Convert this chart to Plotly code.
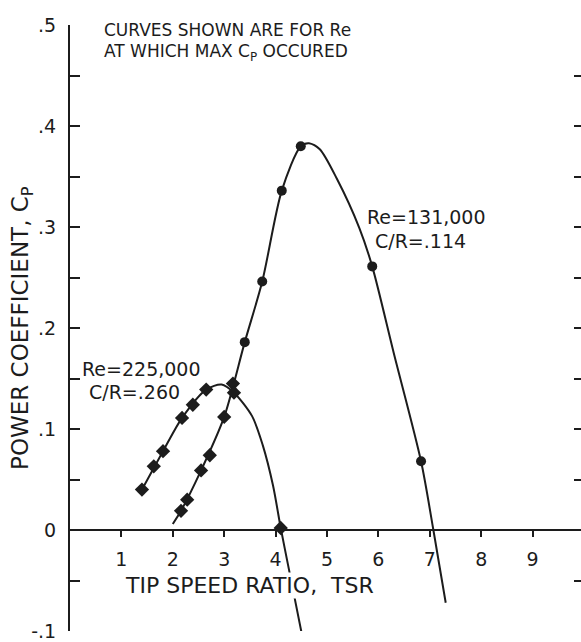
import plotly.graph_objects as go

# ---- data ----
# Re = 131,000, C/R = .114 : measured points
tsr_131 = [2.16, 2.28, 2.55, 2.72, 3.00, 3.17, 3.40, 3.74, 4.12, 4.49, 5.88, 6.83]
cp_131 = [0.019, 0.030, 0.059, 0.074, 0.112, 0.145, 0.186, 0.246, 0.336, 0.380, 0.261, 0.068]
# faired curve through them
curve_tsr_131 = [2.00, 2.16, 2.55, 3.00, 3.40, 3.74, 4.12, 4.49, 4.65, 4.86, 5.19, 5.63, 5.88, 6.30, 6.83, 7.07, 7.31]
curve_cp_131 = [0.006, 0.019, 0.059, 0.112, 0.186, 0.246, 0.336, 0.380, 0.383, 0.377, 0.348, 0.299, 0.261, 0.175, 0.068, 0.0, -0.072]

# Re = 225,000, C/R = .260 : measured points
tsr_225 = [1.40, 1.63, 1.81, 2.18, 2.39, 2.65, 3.19, 4.10]
cp_225 = [0.040, 0.063, 0.078, 0.111, 0.124, 0.139, 0.136, 0.002]
curve_tsr_225 = [1.40, 1.81, 2.18, 2.65, 2.95, 3.19, 3.54, 3.75, 3.95, 4.10, 4.24, 4.51]
curve_cp_225 = [0.040, 0.078, 0.111, 0.139, 0.144, 0.136, 0.113, 0.084, 0.044, 0.002, -0.034, -0.103]

x_ticks = [1, 2, 3, 4, 5, 6, 7, 8, 9]
y_ticks = [-0.1, 0, 0.1, 0.2, 0.3, 0.4, 0.5]
y_tick_text = ["-.1", "0", ".1", ".2", ".3", ".4", ".5"]

INK = "#1c1c1c"
FONT = "DejaVu Sans"

fig = go.Figure()

fig.add_trace(go.Scatter(x=curve_tsr_131, y=curve_cp_131, mode="lines",
                         line=dict(color=INK, width=2, shape="spline", smoothing=0.8),
                         hoverinfo="skip", showlegend=False))
fig.add_trace(go.Scatter(x=curve_tsr_225, y=curve_cp_225, mode="lines",
                         line=dict(color=INK, width=2, shape="spline", smoothing=0.8),
                         hoverinfo="skip", showlegend=False))

sym_131 = ["diamond" if t < 3.3 else "circle" for t in tsr_131]
size_131 = [11 if t < 3.3 else 10 for t in tsr_131]
fig.add_trace(go.Scatter(x=tsr_131, y=cp_131, mode="markers",
                         marker=dict(symbol=sym_131, size=size_131, color=INK, opacity=1,
                                     line=dict(width=0, color=INK)),
                         opacity=1, name="Re=131,000", showlegend=False))
fig.add_trace(go.Scatter(x=tsr_225, y=cp_225, mode="markers",
                         marker=dict(symbol="diamond", size=11, color=INK, opacity=1,
                                     line=dict(width=0, color=INK)),
                         opacity=1, name="Re=225,000", showlegend=False))
# carrier for the right-hand tick axis
fig.add_trace(go.Scatter(x=[None], y=[None], yaxis="y2", showlegend=False, hoverinfo="skip"))

annots = [
    dict(x=0.62, y=0.495, text="CURVES SHOWN ARE FOR Re", xanchor="left", yanchor="middle",
         font=dict(size=17)),
    dict(x=0.62, y=0.473, text="AT WHICH MAX C<sub>P</sub> OCCURED", xanchor="left", yanchor="middle",
         font=dict(size=17)),
    dict(x=0.19, y=0.159, text="Re=225,000", xanchor="left", yanchor="middle", font=dict(size=19)),
    dict(x=0.33, y=0.137, text="C/R=.260", xanchor="left", yanchor="middle", font=dict(size=19)),
    dict(x=5.74, y=0.310, text="Re=131,000", xanchor="left", yanchor="middle", font=dict(size=19)),
    dict(x=5.90, y=0.286, text="C/R=.114", xanchor="left", yanchor="middle", font=dict(size=19)),
    dict(x=3.5, y=-0.055, text="TIP SPEED RATIO,  TSR", xanchor="center", yanchor="middle",
         font=dict(size=22), bgcolor="white", borderpad=0),
    dict(xref="paper", yref="paper", x=-0.094, y=0.5, text="POWER COEFFICIENT, C<sub>P</sub>",
         textangle=-90, xanchor="center", yanchor="middle", font=dict(size=23)),
]
for a in annots:
    a.setdefault("xref", "x")
    a.setdefault("yref", "y")
    a["showarrow"] = False
    a["font"] = dict(family=FONT, color=INK, **a["font"])
    fig.add_annotation(**a)

fig.update_layout(
    width=581, height=642,
    margin=dict(l=70, r=0, t=25, b=5),
    paper_bgcolor="white", plot_bgcolor="white",
    font=dict(family=FONT, color=INK),
    xaxis=dict(range=[0, 9.942], anchor="free", position=1/6,
               showline=True, linecolor=INK, linewidth=2,
               ticks="outside", ticklen=6, tickwidth=2, tickcolor=INK,
               tickvals=x_ticks, ticktext=[str(v) for v in x_ticks],
               tickfont=dict(size=19, family=FONT, color=INK), ticklabelstandoff=6,
               showgrid=False, zeroline=False, fixedrange=True),
    yaxis=dict(range=[-0.1, 0.5], showline=True, linecolor=INK, linewidth=2,
               ticks="inside", ticklen=10, tickwidth=1.5, tickcolor=INK,
               tickvals=y_ticks, ticktext=y_tick_text, ticklabeloverflow="allow",
               minor=dict(ticks="inside", ticklen=10, tickwidth=1.5, tickcolor=INK,
                          tick0=0, dtick=0.05, showgrid=False),
               tickfont=dict(size=19, family=FONT, color=INK), ticklabelstandoff=8,
               showgrid=False, zeroline=False, fixedrange=True),
    yaxis2=dict(range=[-0.1, 0.5], overlaying="y", side="right", showline=False,
                ticks="inside", ticklen=7, tickwidth=1.5, tickcolor=INK,
                tick0=0, dtick=0.05, showticklabels=False,
                showgrid=False, zeroline=False, fixedrange=True),
)

fig.write_html("out.html")
